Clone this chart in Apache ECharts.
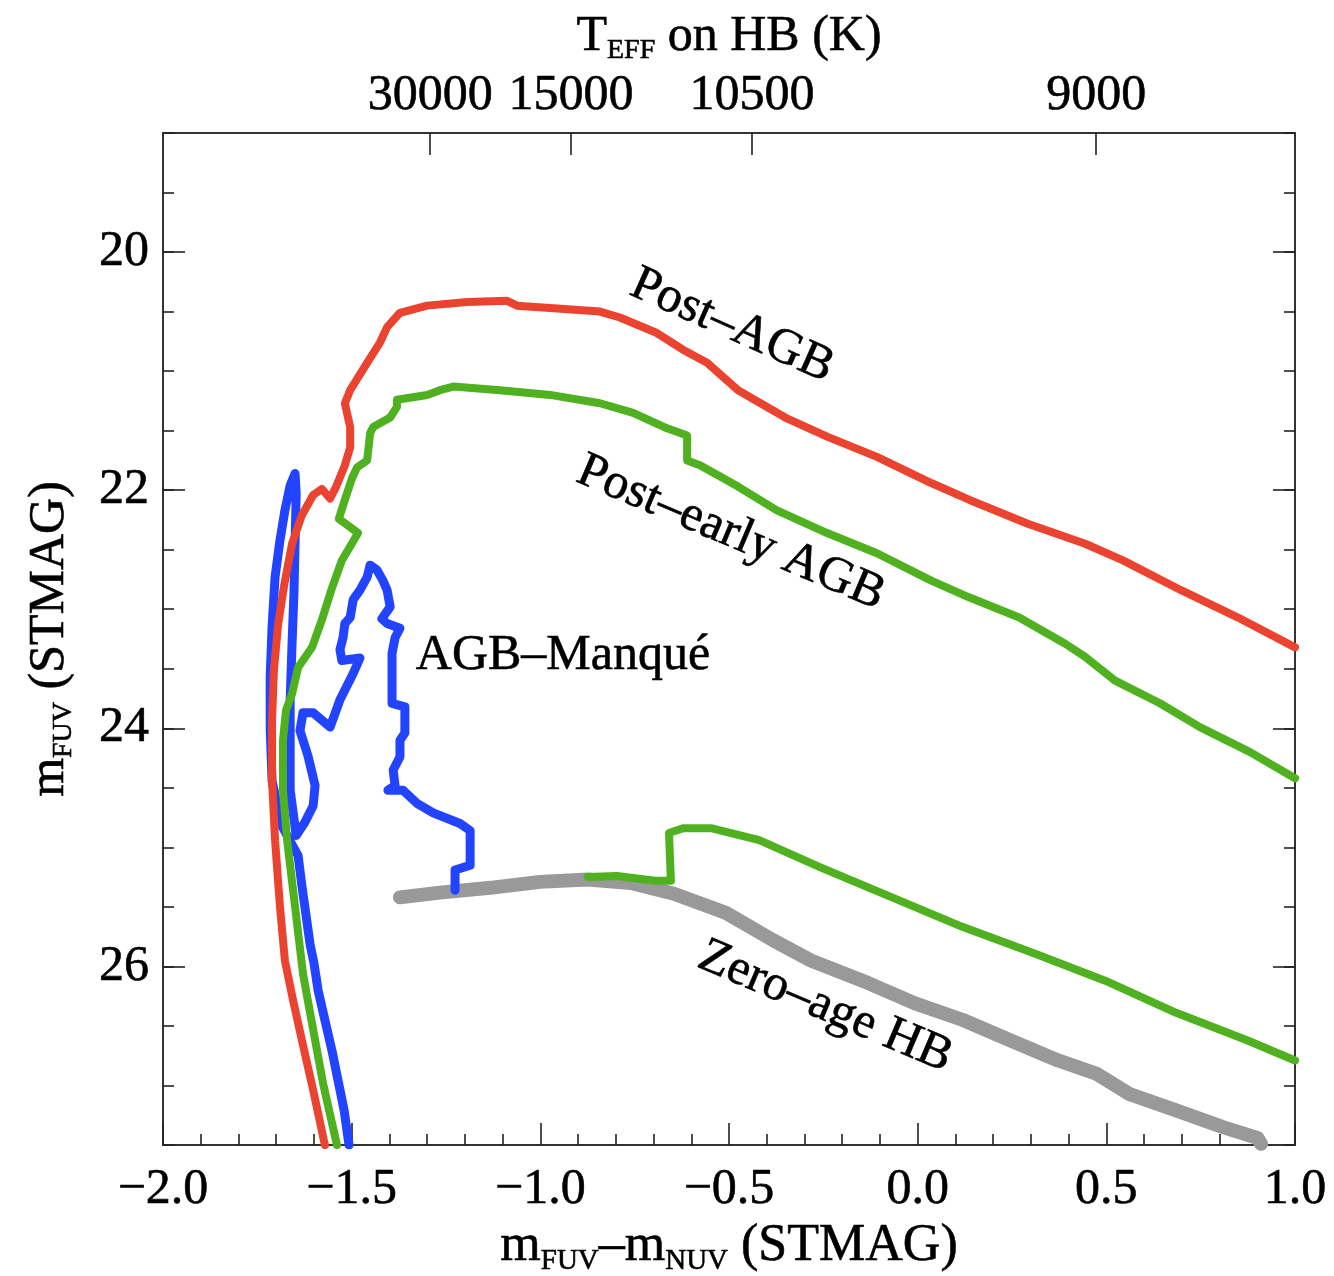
<!DOCTYPE html>
<html>
<head>
<meta charset="utf-8">
<script src="https://cdn.jsdelivr.net/npm/echarts@6/dist/echarts.min.js"></script>
<style>
html,body{margin:0;padding:0;background:#fff;}
#chart{width:1334px;height:1276px;}
</style>
</head>
<body>
<div id="chart"></div>
<script>
// ---- tick definitions ----
const xTickValues = [-2, -1.5, -1, -0.5, 0, 0.5, 1];
const xTickLabels = ['\u22122.0', '\u22121.5', '\u22121.0', '\u22120.5', '0.0', '0.5', '1.0'];
const yTickValues = [20, 22, 24, 26];
const yTickLabels = ['20', '22', '24', '26'];
const teffTickPos = [-1.292, -0.919, -0.439, 0.473];
const teffTickLabels = ['30000', '15000', '10500', '9000'];

// ---- tracks: [mFUV-mNUV, mFUV] ----
const postAGB = [[-1.571,27.50],[-1.602,27.04],[-1.632,26.62],[-1.655,26.29],[-1.677,25.95],[-1.690,25.50],[-1.703,24.94],[-1.711,24.44],[-1.711,23.93],[-1.706,23.51],[-1.695,23.13],[-1.679,22.80],[-1.658,22.45],[-1.632,22.21],[-1.602,22.04],[-1.579,21.99],[-1.557,22.07],[-1.541,21.97],[-1.518,21.79],[-1.504,21.64],[-1.504,21.47],[-1.518,21.27],[-1.504,21.16],[-1.459,20.93],[-1.425,20.76],[-1.406,20.63],[-1.372,20.51],[-1.300,20.45],[-1.194,20.42],[-1.088,20.41],[-1.062,20.45],[-0.974,20.47],[-0.842,20.50],[-0.789,20.55],[-0.691,20.68],[-0.622,20.82],[-0.558,20.93],[-0.476,21.16],[-0.351,21.39],[-0.240,21.55],[-0.108,21.72],[0.036,21.94],[0.136,22.08],[0.290,22.28],[0.444,22.45],[0.544,22.59],[0.698,22.84],[0.849,23.07],[1.000,23.32]];

const postEarlyAGB = [[-1.539,27.50],[-1.576,26.98],[-1.616,26.29],[-1.629,26.06],[-1.650,25.50],[-1.671,24.94],[-1.682,24.52],[-1.682,24.10],[-1.674,23.85],[-1.658,23.71],[-1.642,23.49],[-1.605,23.32],[-1.579,23.09],[-1.552,22.82],[-1.526,22.59],[-1.483,22.36],[-1.534,22.24],[-1.518,22.08],[-1.499,21.90],[-1.486,21.81],[-1.459,21.75],[-1.451,21.52],[-1.443,21.47],[-1.398,21.39],[-1.380,21.30],[-1.380,21.24],[-1.300,21.20],[-1.266,21.16],[-1.231,21.13],[-1.107,21.16],[-0.974,21.20],[-0.842,21.27],[-0.754,21.35],[-0.664,21.48],[-0.611,21.54],[-0.611,21.75],[-0.577,21.79],[-0.476,21.97],[-0.373,22.17],[-0.240,22.36],[-0.108,22.53],[0.036,22.76],[0.136,22.90],[0.269,23.07],[0.391,23.29],[0.444,23.40],[0.523,23.60],[0.642,23.79],[0.748,23.99],[0.881,24.20],[1.000,24.42]];

const postEarlyAGBfromHB = [[-0.874,25.25],[-0.797,25.24],[-0.696,25.28],[-0.654,25.28],[-0.659,24.88],[-0.622,24.84],[-0.545,24.84],[-0.420,24.94],[-0.256,25.17],[-0.068,25.42],[0.120,25.67],[0.308,25.89],[0.497,26.12],[0.685,26.39],[0.873,26.62],[1.000,26.79]];

const zeroAgeHB = [[-1.372,25.42],[-1.266,25.38],[-1.133,25.34],[-1.001,25.29],[-0.874,25.27],[-0.760,25.30],[-0.646,25.39],[-0.508,25.55],[-0.383,25.78],[-0.283,25.95],[-0.131,26.14],[-0.007,26.31],[0.120,26.45],[0.245,26.62],[0.372,26.79],[0.473,26.90],[0.560,27.07],[0.685,27.21],[0.809,27.35],[0.900,27.44],[0.910,27.49]];

const agbManque = [[-1.226,25.36],[-1.226,25.19],[-1.186,25.15],[-1.186,24.86],[-1.213,24.80],[-1.284,24.71],[-1.327,24.63],[-1.364,24.52],[-1.404,24.52],[-1.385,24.48],[-1.390,24.35],[-1.372,24.24],[-1.372,24.10],[-1.359,24.04],[-1.359,23.82],[-1.393,23.79],[-1.393,23.37],[-1.385,23.24],[-1.372,23.16],[-1.406,23.12],[-1.420,23.08],[-1.398,22.98],[-1.406,22.84],[-1.417,22.76],[-1.433,22.67],[-1.451,22.63],[-1.459,22.73],[-1.478,22.84],[-1.496,22.92],[-1.504,23.07],[-1.518,23.12],[-1.523,23.24],[-1.531,23.34],[-1.526,23.43],[-1.478,23.41],[-1.496,23.54],[-1.531,23.76],[-1.557,23.99],[-1.602,23.87],[-1.629,23.87],[-1.637,24.02],[-1.616,24.23],[-1.597,24.48],[-1.602,24.65],[-1.624,24.79],[-1.647,24.90],[-1.663,24.52],[-1.663,23.76],[-1.658,23.29],[-1.653,22.87],[-1.650,22.45],[-1.647,22.03],[-1.650,21.86],[-1.663,21.96],[-1.677,22.17],[-1.690,22.42],[-1.703,22.73],[-1.711,23.15],[-1.716,23.57],[-1.716,23.99],[-1.711,24.44],[-1.685,24.82],[-1.642,25.07],[-1.632,25.32],[-1.621,25.57],[-1.610,25.82],[-1.600,25.97],[-1.589,26.20],[-1.571,26.45],[-1.552,26.71],[-1.536,26.96],[-1.520,27.21],[-1.507,27.50]];

// ---- annotations ----
const annotationText = ['Post\u2013AGB', 'Post\u2013early AGB', 'AGB\u2013Manqu\u00e9', 'Zero\u2013age HB'];
const annotationAt = [[-0.492, 20.62], [-0.495, 22.36], [-0.940, 23.39], [-0.245, 26.34]];
const annotationAngle = [-24, -23, 0, -23];

// ---- styling ----
const FONT = '"Liberation Serif", "DejaVu Serif", serif';
const INK = '#000';
const FRAME = {color: '#333', width: 2};
const TICK = {color: '#222', width: 1.6};
const BOLDEN = {textBorderColor: '#000', textBorderWidth: 0.6};

function lookup(vals, labels, v) {
  const i = vals.findIndex(t => Math.abs(t - v) < 1e-6);
  return i >= 0 ? labels[i] : '';
}

function richName(fs, sub) {
  return {
    rich: {
      m: Object.assign({fontSize: fs, fontFamily: FONT, color: INK, lineHeight: fs + 6}, BOLDEN),
      s: Object.assign({fontSize: sub, fontFamily: FONT, color: INK, lineHeight: 22, verticalAlign: 'bottom'}, BOLDEN)
    }
  };
}

const chart = echarts.init(document.getElementById('chart'), null, {renderer: 'canvas'});

const option = {
  backgroundColor: '#ffffff',
  animation: false,
  grid: {left: 163, right: 39, top: 133, bottom: 131, containLabel: false, outerBoundsMode: 'none'},
  xAxis: [
    {
      type: 'value', position: 'bottom', min: -2, max: 1, interval: 0.5,
      axisLine: {show: true, onZero: false, lineStyle: FRAME},
      axisTick: {show: true, inside: true, length: 22, lineStyle: TICK},
      minorTick: {show: true, splitNumber: 5, length: 11, lineStyle: TICK},
      axisLabel: Object.assign({
        margin: 20, fontSize: 50, fontFamily: FONT, color: INK,
        formatter: v => lookup(xTickValues, xTickLabels, v)
      }, BOLDEN),
      splitLine: {show: false},
      name: '{m|m}{s|FUV}{m|\u2013m}{s|NUV}{m| (STMAG)}',
      nameLocation: 'middle', nameGap: 70,
      nameTextStyle: richName(52, 29)
    },
    {
      type: 'value', position: 'top', min: -2, max: 1,
      axisLine: {show: true, onZero: false, lineStyle: FRAME},
      axisTick: {show: true, inside: true, length: 22, customValues: teffTickPos, lineStyle: TICK},
      axisLabel: Object.assign({
        customValues: teffTickPos, margin: 12, fontSize: 50, fontFamily: FONT, color: INK,
        formatter: v => lookup(teffTickPos, teffTickLabels, v)
      }, BOLDEN),
      splitLine: {show: false},
      name: '{m|T}{s|EFF}{m| on HB (K)}',
      nameLocation: 'middle', nameGap: 68,
      nameTextStyle: richName(50, 28)
    }
  ],
  yAxis: [
    {
      type: 'value', position: 'left', min: 19, max: 27.5, inverse: true,
      axisLine: {show: true, onZero: false, lineStyle: FRAME},
      axisTick: {show: true, inside: true, length: 22, customValues: yTickValues, lineStyle: TICK},
      axisLabel: Object.assign({
        customValues: yTickValues, margin: 14, fontSize: 50, fontFamily: FONT, color: INK,
        formatter: v => lookup(yTickValues, yTickLabels, v)
      }, BOLDEN),
      splitLine: {show: false},
      name: '{m|m}{s|FUV}{m| (STMAG)}',
      nameLocation: 'middle', nameGap: 85, nameRotate: 90,
      nameTextStyle: richName(50, 28)
    },
    {
      type: 'value', position: 'left', min: 19, max: 27.5, interval: 0.5, inverse: true,
      axisLine: {show: false, onZero: false},
      axisTick: {show: true, inside: true, length: 11, lineStyle: TICK},
      axisLabel: {show: false}, splitLine: {show: false}
    },
    {
      type: 'value', position: 'right', min: 19, max: 27.5, inverse: true,
      axisLine: {show: true, onZero: false, lineStyle: FRAME},
      axisTick: {show: true, inside: true, length: 22, customValues: yTickValues, lineStyle: TICK},
      axisLabel: {show: false}, splitLine: {show: false}
    },
    {
      type: 'value', position: 'right', min: 19, max: 27.5, interval: 0.5, inverse: true,
      axisLine: {show: false, onZero: false},
      axisTick: {show: true, inside: true, length: 11, lineStyle: TICK},
      axisLabel: {show: false}, splitLine: {show: false}
    }
  ],
  series: [
    {
      name: 'Zero-age HB', type: 'line', data: zeroAgeHB, showSymbol: false, symbol: 'none',
      lineStyle: {color: '#999999', width: 14, cap: 'round', join: 'round'}, z: 2
    },
    {
      name: 'AGB-Manqué', type: 'line', data: agbManque, showSymbol: false, symbol: 'none',
      lineStyle: {color: '#2244ff', width: 9, cap: 'round', join: 'round'}, z: 3
    },
    {
      name: 'Post-early AGB (from HB)', type: 'line', data: postEarlyAGBfromHB, showSymbol: false, symbol: 'none',
      lineStyle: {color: '#4fb020', width: 8, cap: 'round', join: 'round'}, z: 4
    },
    {
      name: 'Post-early AGB', type: 'line', data: postEarlyAGB, showSymbol: false, symbol: 'none',
      lineStyle: {color: '#4fb020', width: 8, cap: 'round', join: 'round'}, z: 4
    },
    {
      name: 'Post-AGB', type: 'line', data: postAGB, showSymbol: false, symbol: 'none',
      lineStyle: {color: '#ea4430', width: 8, cap: 'round', join: 'round'}, z: 5
    },
    {
      name: 'labels', type: 'scatter', symbolSize: 0, silent: true, z: 10,
      itemStyle: {color: 'transparent', opacity: 1},
      data: annotationText.map((t, i) => ({
        name: t, value: annotationAt[i],
        label: {rotate: annotationAngle[i]}
      })),
      label: Object.assign({
        show: true, position: 'inside', formatter: p => p.name,
        fontSize: 50, fontFamily: FONT, color: INK, opacity: 1,
        align: 'center', verticalAlign: 'middle'
      }, BOLDEN)
    }
  ]
};

chart.setOption(option);
</script>
</body>
</html>
